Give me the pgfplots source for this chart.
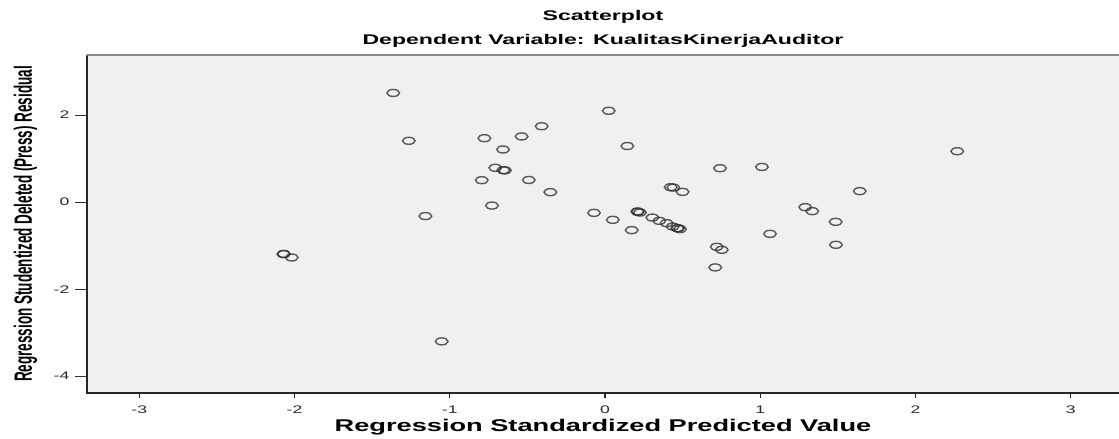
\documentclass[border=0pt]{standalone}
\usepackage{fontspec}
\setmainfont{Liberation Sans}
\usepackage{pgfplots}
\pgfplotsset{compat=1.18}
\usepackage{pgfplotstable}
\definecolor{bggray}{HTML}{F0F0F0}
\definecolor{ticktext}{HTML}{2A2A2A}
\definecolor{markcol}{HTML}{333333}

\pgfplotstableread{
x y
-1.364 2.51
0.024 2.10
-0.408 1.745
-1.264 1.41
-0.777 1.47
-0.537 1.51
-0.657 1.21
0.144 1.29
-0.707 0.79
-0.655 0.735
-0.645 0.730
-0.794 0.505
-0.491 0.51
-0.352 0.23
-0.728 -0.078
-1.157 -0.32
0.741 0.78
1.011 0.81
0.423 0.344
0.440 0.335
0.500 0.237
-0.071 -0.246
0.050 -0.406
0.172 -0.643
0.208 -0.216
0.212 -0.218
0.225 -0.239
0.305 -0.354
0.350 -0.430
0.397 -0.482
0.436 -0.560
0.466 -0.597
0.470 -0.600
0.483 -0.620
1.063 -0.728
0.720 -1.026
0.752 -1.095
0.710 -1.500
2.269 1.17
1.641 0.253
1.290 -0.115
1.335 -0.207
1.486 -0.452
1.488 -0.980
-2.072 -1.194
-2.068 -1.190
-2.018 -1.272
-1.052 -3.20
}\resid

\begin{document}
\begin{tikzpicture}
\begin{axis}[
  name=ax,
  scale only axis,
  width=1032pt, height=338pt,
  xmin=-3.337, xmax=3.311,
  ymin=-4.386, ymax=3.382,
  axis background/.style={fill=bggray},
  axis line style={draw=none},
  xtick={-3,-2,-1,0,1,2,3},
  xticklabels={-3,-2,-1,0,1,2,3},
  ytick={-4,-2,0,2},
  yticklabels={-4,-2,0,2},
  xtick pos=bottom, ytick pos=left,
  tick align=outside,
  major tick length=12pt,
  xtick style={/pgfplots/major tick length=5pt, draw=black!85, line width=1.3pt},
  ytick style={draw=black!80, line width=1pt},
  every tick label/.append style={font=\fontsize{11}{13}\selectfont, text=ticktext, xscale=1.6},
  xticklabel style={inner sep=0.5pt},
  every axis title/.style={at={(axis description cs:0.5,1)}, yshift=7.4pt, xscale=1.65, anchor=south, align=center, inner sep=0pt, font=\bfseries\fontsize{14}{24}\selectfont},
  title={Scatterplot\\Dependent Variable: KualitasKinerjaAuditor},
  every axis x label/.style={at={(axis description cs:0.5,0)}, yshift=-38pt, xscale=1.6, anchor=base, font=\bfseries\fontsize{17}{19}\selectfont},
  xlabel={Regression Standardized Predicted Value},
  every axis y label/.style={at={(axis description cs:0,0.5)}, xshift=-55pt, rotate=90, yscale=1.85, anchor=base, font=\bfseries\fontsize{13.5}{16}\selectfont},
  ylabel={Regression Studentized Deleted (Press) Residual},
  after end axis/.code={
    \draw[black!85, line width=1.6pt] (rel axis cs:0,1) -- (rel axis cs:0,0) -- (rel axis cs:1,0);
    \draw[black!45, line width=1.6pt] (rel axis cs:0,1) -- (rel axis cs:1,1);
  },
]
\addplot[only marks, mark=o, mark size=3.5pt,
  mark options={xscale=1.8, draw=markcol, line width=1.4pt, draw opacity=0.8}]
  table[x=x, y=y] {\resid};
\end{axis}
\pgfresetboundingbox
\path[use as bounding box] (ax.south west) ++(-87pt,-46pt) rectangle ++(1119pt,439pt);
\end{tikzpicture}
\end{document}
